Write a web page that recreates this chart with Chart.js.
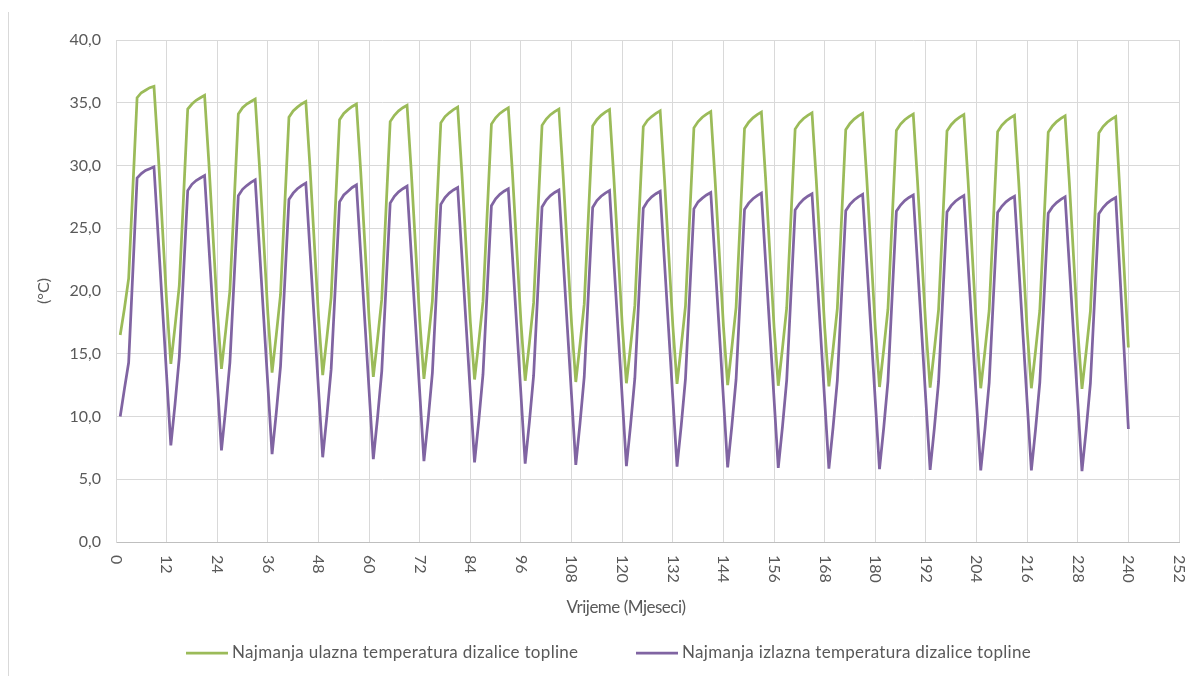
<!DOCTYPE html>
<html>
<head>
<meta charset="utf-8">
<script src="https://cdn.jsdelivr.net/npm/chart.js@4.4.0/dist/chart.umd.min.js"></script>
<style>
    html, body { margin: 0; padding: 0; background: #ffffff; }
    #wrap { position: relative; width: 1196px; height: 676px; }
    #frame { position: absolute; left: 8px; top: 12px; bottom: 0; border-left: 1px solid #d9d9d9; }
    canvas { display: block; }
</style>
</head>
<body>
<div id="wrap">
    <div id="frame"></div>
    <canvas id="tempChart" width="1196" height="676"></canvas>
</div>
<script>
// mjeseci 1..240
const months = Array.from({ length: 240 }, (_, i) => i + 1);
const xTickLabels = ['0', '12', '24', '36', '48', '60', '72', '84', '96', '108', '120', '132', '144',
    '156', '168', '180', '192', '204', '216', '228', '240', '252'];
const seriesNames = [
    'Najmanja ulazna temperatura dizalice topline',
    'Najmanja izlazna temperatura dizalice topline'
];

// jedan red = jedna godina
const ulaznaTemp = [
    16.5, 18.6, 21.0, 28.2, 35.4, 35.8, 36.0, 36.2, 36.3, 31.0, 25.1, 19.2,
    14.2, 17.2, 20.4, 27.4, 34.5, 34.9, 35.2, 35.4, 35.6, 30.3, 24.4, 18.5,
    13.8, 16.8, 20.0, 27.0, 34.1, 34.6, 34.9, 35.1, 35.3, 30.0, 24.1, 18.2,
    13.5, 16.5, 19.7, 26.8, 33.85, 34.35, 34.65, 34.9, 35.1, 29.8, 23.9, 18.0,
    13.3, 16.3, 19.5, 26.6, 33.65, 34.15, 34.45, 34.7, 34.9, 29.6, 23.7, 17.8,
    13.15, 16.15, 19.35, 26.4, 33.5, 34.0, 34.35, 34.6, 34.8, 29.5, 23.6, 17.7,
    13.0, 16.0, 19.2, 26.3, 33.4, 33.9, 34.2, 34.45, 34.65, 29.35, 23.45, 17.55,
    12.95, 15.95, 19.15, 26.2, 33.3, 33.8, 34.15, 34.4, 34.6, 29.3, 23.4, 17.5,
    12.85, 15.85, 19.05, 26.1, 33.2, 33.7, 34.05, 34.3, 34.5, 29.2, 23.3, 17.4,
    12.75, 15.75, 18.95, 26.05, 33.15, 33.65, 34.0, 34.25, 34.45, 29.15, 23.25, 17.35,
    12.65, 15.65, 18.85, 26.0, 33.1, 33.6, 33.9, 34.15, 34.35, 29.05, 23.15, 17.25,
    12.6, 15.6, 18.8, 25.9, 33.0, 33.5, 33.85, 34.1, 34.3, 29.0, 23.1, 17.2,
    12.5, 15.5, 18.7, 25.8, 32.95, 33.45, 33.8, 34.05, 34.25, 28.95, 23.05, 17.15,
    12.45, 15.45, 18.65, 25.8, 32.9, 33.4, 33.75, 34.0, 34.2, 28.9, 23.0, 17.1,
    12.4, 15.4, 18.6, 25.7, 32.85, 33.35, 33.7, 33.95, 34.15, 28.85, 22.95, 17.05,
    12.35, 15.35, 18.55, 25.7, 32.8, 33.3, 33.65, 33.9, 34.1, 28.8, 22.9, 17.0,
    12.3, 15.3, 18.5, 25.6, 32.75, 33.25, 33.6, 33.85, 34.05, 28.75, 22.85, 16.95,
    12.25, 15.25, 18.45, 25.6, 32.7, 33.2, 33.55, 33.8, 34.0, 28.7, 22.8, 16.9,
    12.25, 15.25, 18.45, 25.55, 32.65, 33.15, 33.5, 33.75, 33.95, 28.65, 22.75, 16.85,
    12.2, 15.2, 18.4, 25.5, 32.6, 33.1, 33.45, 33.7, 33.9, 27.8, 21.7, 15.5
];

const izlaznaTemp = [
    10.0, 12.2, 14.3, 21.6, 29.0, 29.35, 29.6, 29.75, 29.9, 24.35, 18.8, 13.25,
    7.7, 11.0, 14.7, 21.35, 28.0, 28.5, 28.8, 29.0, 29.2, 23.7, 18.25, 12.8,
    7.3, 10.6, 14.3, 20.95, 27.6, 28.1, 28.4, 28.65, 28.85, 23.4, 17.95, 12.5,
    7.0, 10.3, 14.0, 20.65, 27.3, 27.8, 28.15, 28.4, 28.6, 23.15, 17.7, 12.2,
    6.75, 10.05, 13.75, 20.4, 27.1, 27.65, 27.95, 28.25, 28.45, 23.0, 17.55, 12.05,
    6.6, 9.9, 13.6, 20.3, 27.0, 27.55, 27.9, 28.15, 28.35, 22.9, 17.4, 11.95,
    6.45, 9.75, 13.45, 20.2, 26.9, 27.45, 27.8, 28.05, 28.25, 22.8, 17.3, 11.85,
    6.35, 9.65, 13.35, 20.1, 26.8, 27.35, 27.7, 27.95, 28.15, 22.7, 17.2, 11.75,
    6.25, 9.55, 13.25, 20.0, 26.7, 27.25, 27.6, 27.85, 28.05, 22.6, 17.1, 11.65,
    6.15, 9.45, 13.15, 19.9, 26.65, 27.2, 27.55, 27.8, 28.0, 22.5, 17.0, 11.55,
    6.05, 9.35, 13.05, 19.85, 26.6, 27.15, 27.5, 27.75, 27.95, 22.45, 16.95, 11.5,
    6.0, 9.3, 13.0, 19.8, 26.55, 27.1, 27.4, 27.65, 27.85, 22.4, 16.9, 11.45,
    5.95, 9.25, 12.95, 19.7, 26.5, 27.0, 27.35, 27.6, 27.8, 22.3, 16.85, 11.4,
    5.9, 9.2, 12.9, 19.7, 26.45, 26.95, 27.3, 27.55, 27.75, 22.3, 16.8, 11.3,
    5.85, 9.15, 12.85, 19.6, 26.4, 26.9, 27.25, 27.5, 27.7, 22.2, 16.75, 11.25,
    5.8, 9.1, 12.8, 19.6, 26.35, 26.85, 27.2, 27.45, 27.65, 22.2, 16.7, 11.2,
    5.75, 9.05, 12.75, 19.5, 26.3, 26.8, 27.15, 27.4, 27.6, 22.1, 16.65, 11.15,
    5.7, 9.0, 12.7, 19.5, 26.25, 26.75, 27.1, 27.35, 27.55, 22.1, 16.6, 11.15,
    5.7, 9.0, 12.7, 19.45, 26.2, 26.7, 27.05, 27.3, 27.5, 22.05, 16.6, 11.1,
    5.65, 8.95, 12.65, 19.4, 26.15, 26.65, 27.0, 27.25, 27.45, 21.3, 15.2, 9.0
];

const FONT = 'Lato, "Open Sans", sans-serif';
const TEXT_COLOR = '#595959';
const GREEN = '#9BBB59';
const PURPLE = '#8064A2';

// x oznake (okrenute 90°), naslov osi i legenda
const extraText = {
    id: 'extraText',
    afterDraw(chart) {
        const { ctx, chartArea } = chart;
        const xScale = chart.scales.x;
        ctx.save();
        ctx.font = '16px ' + FONT;
        ctx.fillStyle = TEXT_COLOR;
        ctx.textAlign = 'left';
        ctx.textBaseline = 'middle';
        xTickLabels.forEach(label => {
            const px = xScale.getPixelForValue(Number(label));
            ctx.save();
            ctx.translate(px, chartArea.bottom + 13);
            ctx.rotate(Math.PI / 2);
            ctx.fillText(label, 0, 0);
            ctx.restore();
        });

        ctx.textAlign = 'center';
        ctx.font = '17px ' + FONT;
        ctx.letterSpacing = '-0.5px';
        ctx.fillText('Vrijeme (Mjeseci)', 626, 608);

        // legenda
        ctx.font = '17px ' + FONT;
        ctx.textAlign = 'left';
        ctx.letterSpacing = '0.3px';
        const items = [
            { x: 186, color: GREEN, text: seriesNames[0] },
            { x: 636, color: PURPLE, text: seriesNames[1] }
        ];
        items.forEach(it => {
            ctx.strokeStyle = it.color;
            ctx.lineWidth = 2.75;
            ctx.beginPath();
            ctx.moveTo(it.x, 653);
            ctx.lineTo(it.x + 42, 653);
            ctx.stroke();
            ctx.fillText(it.text, it.x + 46, 653);
        });
        ctx.restore();
    }
};

const tempChart = new Chart(document.getElementById('tempChart'), {
    type: 'line',
    data: {
        labels: months,
        datasets: [
            {
                label: seriesNames[0],
                data: ulaznaTemp,
                borderColor: GREEN,
                backgroundColor: GREEN,
                borderWidth: 2.75,
                pointRadius: 0,
                tension: 0,
            },
            {
                label: seriesNames[1],
                data: izlaznaTemp,
                borderColor: PURPLE,
                backgroundColor: PURPLE,
                borderWidth: 2.75,
                pointRadius: 0,
                tension: 0,
            },
        ],
    },
    options: {
        responsive: false,
        animation: false,
        layout: { padding: { left: 30, top: 40, right: 17, bottom: 54 } },
        plugins: {
            legend: { display: false },
            tooltip: { enabled: false },
        },
        scales: {
            x: {
                type: 'linear',
                min: 0,
                max: 252,
                ticks: { stepSize: 12, display: false },
                grid: { color: '#d9d9d9', drawTicks: false },
                border: { color: '#bfbfbf' },
                afterFit: scale => { scale.height = 80; },
            },
            y: {
                min: 0,
                max: 40,
                ticks: {
                    stepSize: 5,
                    padding: 15,
                    color: TEXT_COLOR,
                    font: { family: FONT, size: 16 },
                    callback: v => v.toFixed(1).replace('.', ','),
                },
                grid: { color: '#d9d9d9', drawTicks: false },
                border: { color: '#d9d9d9' },
                title: {
                    display: true,
                    text: '(°C)',
                    color: TEXT_COLOR,
                    font: { family: FONT, size: 16 },
                    padding: { top: 4, bottom: 4 },
                },
                afterFit: scale => { scale.width = 86; },
            },
        },
    },
    plugins: [extraText],
});
</script>
</body>
</html>
